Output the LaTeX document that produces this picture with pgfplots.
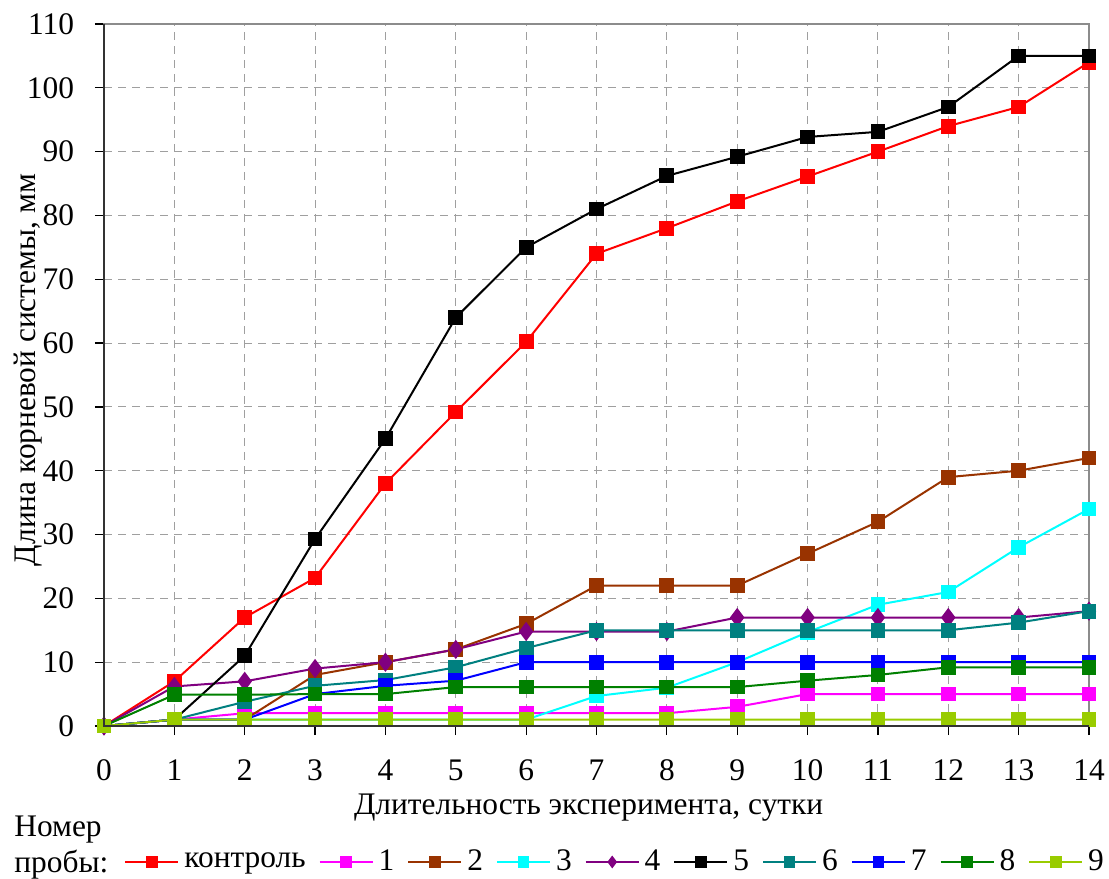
\documentclass[border=0pt]{standalone}
\usepackage{pgfplots}
\pgfplotsset{compat=1.18}
\usepackage{fontspec}
\setmainfont{Liberation Serif}
\definecolor{cCtrl}{HTML}{FF0000}
\definecolor{cOne}{HTML}{FF00FF}
\definecolor{cTwo}{HTML}{993300}
\definecolor{cThree}{HTML}{00FFFF}
\definecolor{cFour}{HTML}{800080}
\definecolor{cFive}{HTML}{000000}
\definecolor{cSix}{HTML}{008080}
\definecolor{cSeven}{HTML}{0000FF}
\definecolor{cEight}{HTML}{008000}
\definecolor{cNine}{HTML}{99CC00}
\newcommand\chartfont{\rmfamily\fontsize{15.7bp}{18.5bp}\selectfont}
\begin{document}
\begin{tikzpicture}[font=\chartfont]
\begin{axis}[
  name=ax,
  at={(0,0)}, anchor=south west,
  scale only axis,
  width=492.5bp, height=351bp,
  xmin=0, xmax=14, ymin=0, ymax=110,
  xtick={0,1,...,14}, ytick={0,10,...,110},
  xtick pos=bottom, ytick pos=left,
  tick align=outside,
  major tick length=4.5bp,
  tick style={black, line width=0.6bp},
  /pgf/number format/assume math mode=true,
  xticklabel style={anchor=north, yshift=-9bp, font=\chartfont},
  yticklabel style={anchor=east, xshift=-7bp, font=\chartfont},
  axis line style={draw=gray!90, line width=1bp},
  grid=major,
  major grid style={gray!75, dash pattern=on 4bp off 3bp, line width=0.5bp},
  xlabel={Длительность эксперимента, сутки},
  ylabel={Длина корневой системы, мм},
  label style={font=\chartfont},
  xlabel style={at={(axis description cs:0.492,-0.1168)}, anchor=center},
  ylabel style={at={(axis description cs:-0.0772,0.507)}, anchor=center},
  clip=false,
  every axis plot/.append style={line width=1bp, mark=square*, mark size=3.2bp},
  legend columns=-1,
  legend image code/.code={\draw[mark=none] (0bp,0bp) -- (26.5bp,0bp); \draw[mark size=2.4bp] plot coordinates {(13.25bp,0bp)};},
  legend style={at={(axis description cs:0.0203,-0.1937)}, anchor=west, draw=none, fill=none, inner sep=0pt,
    font=\chartfont,
    nodes={inner xsep=2.5bp, inner ysep=1bp},
    /tikz/every even column/.append style={column sep=4bp}},
]
\addplot[color=cCtrl] coordinates {(0,0) (1,7) (2,17) (3,23.2) (4,38) (5,49.2) (6,60.2) (7,74) (8,78) (9,82.2) (10,86.1) (11,90) (12,94) (13,97) (14,104)};
\addlegendentry{контроль}
\addplot[color=cOne] coordinates {(0,0) (1,1) (2,2) (3,2) (4,2) (5,2) (6,2) (7,2) (8,2) (9,3) (10,5) (11,5) (12,5) (13,5) (14,5)};
\addlegendentry{1}
\addplot[color=cTwo] coordinates {(0,0) (1,1) (2,1) (3,8) (4,10) (5,12) (6,16) (7,22) (8,22) (9,22) (10,27) (11,32) (12,39) (13,40) (14,42)};
\addlegendentry{2}
\addplot[color=cThree] coordinates {(0,0) (1,1) (2,1) (3,1) (4,1) (5,1) (6,1) (7,4.7) (8,6) (9,10) (10,14.7) (11,19) (12,21) (13,28) (14,34)};
\addlegendentry{3}
\addplot[color=cFour, mark=diamond*, mark size=4bp] coordinates {(0,0) (1,6.2) (2,7) (3,9) (4,10) (5,12) (6,14.8) (7,14.8) (8,14.8) (9,17) (10,17) (11,17) (12,17) (13,17) (14,18)};
\addlegendentry{4}
\addplot[color=cFive] coordinates {(0,0) (1,1) (2,11) (3,29.3) (4,45) (5,64) (6,75) (7,81) (8,86.2) (9,89.2) (10,92.3) (11,93.1) (12,97) (13,105) (14,105)};
\addlegendentry{5}
\addplot[color=cSix] coordinates {(0,0) (1,1) (2,3.8) (3,6.3) (4,7.2) (5,9.2) (6,12.2) (7,15) (8,15) (9,15) (10,15) (11,15) (12,15) (13,16.2) (14,18)};
\addlegendentry{6}
\addplot[color=cSeven] coordinates {(0,0) (1,1) (2,1) (3,5) (4,6.3) (5,7.1) (6,10) (7,10) (8,10) (9,10) (10,10) (11,10) (12,10) (13,10) (14,10)};
\addlegendentry{7}
\addplot[color=cEight] coordinates {(0,0) (1,4.9) (2,4.9) (3,5) (4,5) (5,6.1) (6,6.1) (7,6.1) (8,6.1) (9,6.1) (10,7.1) (11,8) (12,9.2) (13,9.2) (14,9.2)};
\addlegendentry{8}
\addplot[color=cNine] coordinates {(0,0) (1,1) (2,1) (3,1) (4,1) (5,1) (6,1) (7,1) (8,1) (9,1) (10,1) (11,1) (12,1) (13,1) (14,1)};
\addlegendentry{9}
\end{axis}
\draw[black!80, line width=1bp] (ax.north west) -- (ax.south west) -- (ax.south east);
\node[anchor=base west, inner sep=0pt] at (-45bp,-55bp) {Номер};
\node[anchor=base west, inner sep=0pt] at (-45bp,-73bp) {пробы:};
\pgfresetboundingbox
\path[use as bounding box] (-52bp,-76.5bp) rectangle (502.5bp,363bp);
\end{tikzpicture}
\end{document}
